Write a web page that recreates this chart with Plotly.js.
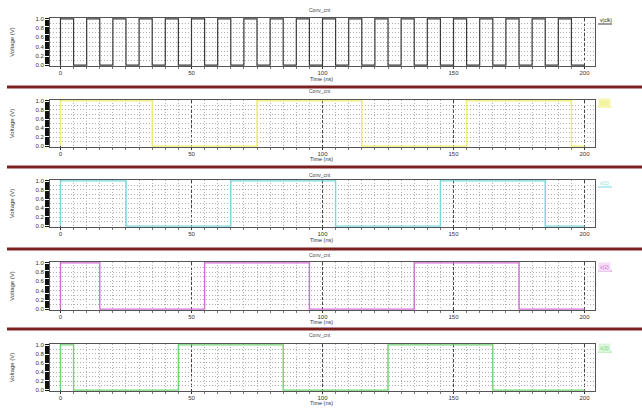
<!DOCTYPE html>
<html>
<head>
<meta charset="utf-8">
<script src="https://cdn.plot.ly/plotly-3.0.1.min.js"></script>
<style>html,body{margin:0;padding:0;background:#fff;}#chart{width:642px;height:408px;}</style>
</head>
<body>
<div id="chart"></div>
<script>
// ---- data ----
const signalNames = ["v(clk)", "v(0)", "v(1)", "v(2)", "v(3)"];
const panelTitle = "Conv_cnt";
const timeTicks = [0, 50, 100, 150, 200];
const voltTicks = [0, 0.1, 0.2, 0.3, 0.4, 0.5, 0.6, 0.7, 0.8, 0.9, 1.0];
const voltLabels = ["0.0", "", "0.2", "", "0.4", "", "0.6", "", "0.8", "", "1.0"];

const clkTime = [0, 0, 5, 10, 15, 20, 25, 30, 35, 40, 45, 50, 55, 60, 65, 70, 75, 80, 85, 90, 95, 100,
  105, 110, 115, 120, 125, 130, 135, 140, 145, 150, 155, 160, 165, 170, 175, 180, 185, 190, 195, 200];
const clkV = [0, 1, 0, 1, 0, 1, 0, 1, 0, 1, 0, 1, 0, 1, 0, 1, 0, 1, 0, 1, 0, 1,
  0, 1, 0, 1, 0, 1, 0, 1, 0, 1, 0, 1, 0, 1, 0, 1, 0, 1, 0, 0];

const bit0Time = [0, 0, 35, 75, 115, 155, 195, 200];
const bit0V    = [0, 1, 0, 1, 0, 1, 0, 0];
const bit1Time = [0, 0, 25, 65, 105, 145, 185, 200];
const bit1V    = [0, 1, 0, 1, 0, 1, 0, 0];
const bit2Time = [0, 0, 15, 55, 95, 135, 175, 200];
const bit2V    = [0, 1, 0, 1, 0, 1, 0, 0];
const bit3Time = [0, 0, 5, 45, 85, 125, 165, 200];
const bit3V    = [0, 1, 0, 1, 0, 1, 0, 0];

// ---- styling ----
const W = 642, H = 408;
const colors = ["#3a3a3a", "#eeee70", "#78d8dc", "#d070d4", "#74d474"];
const labelBg = ["rgba(0,0,0,0)", "#f6f6b0", "rgba(0,0,0,0)", "#f6dcf6", "#dcf6dc"];
const panels = [ // pixel positions of each panel
  {top: 18, bottom: 66, titleY: 10, xTitleY: 79, sep: 87, legY: 20},
  {top: 100, bottom: 147, titleY: 91, xTitleY: 159, sep: 167, legY: 103},
  {top: 180, bottom: 227, titleY: 175, xTitleY: 240, sep: 249, legY: 183},
  {top: 262, bottom: 310, titleY: 255, xTitleY: 322, sep: 329, legY: 267},
  {top: 344, bottom: 391, titleY: 335, xTitleY: 403, sep: null, legY: 348}
];
const xDom = [50 / W, 595 / W];
const FONT = "Liberation Sans, Arial, sans-serif";

const series = [[clkTime, clkV], [bit0Time, bit0V], [bit1Time, bit1V], [bit2Time, bit2V], [bit3Time, bit3V]];
const traces = [];
const layout = {
  width: W, height: H,
  margin: {l: 0, r: 0, t: 0, b: 0},
  paper_bgcolor: "#fff", plot_bgcolor: "#fff",
  showlegend: false,
  font: {family: FONT, size: 6, color: "#333"},
  annotations: [], shapes: []
};

series.forEach((s, i) => {
  const n = i === 0 ? "" : String(i + 1);
  const p = panels[i];
  traces.push({
    x: s[0], y: s[1], type: "scatter", mode: "lines",
    line: {shape: "hv", color: colors[i], width: i === 0 ? 1.2 : 1.4},
    xaxis: "x" + n, yaxis: "y" + n, name: signalNames[i], hoverinfo: "skip"
  });
  layout["xaxis" + n] = {
    domain: xDom, anchor: "y" + n, range: [-4, 204],
    tickvals: timeTicks, ticktext: timeTicks.map(String),
    ticks: "outside", ticklen: 2, tickcolor: "#333",
    ticklabelstandoff: -1,
    showline: true, linecolor: "#555", linewidth: 1, mirror: true,
    showgrid: true, gridcolor: "#444", griddash: "3px,2px", gridwidth: 1,
    zeroline: false,
    minor: {dtick: 5, tick0: 0, ticks: "outside", ticklen: 2, tickcolor: "#777",
            showgrid: true, gridcolor: "#b0b0b0", griddash: "1px,2px", gridwidth: 1},
    tickfont: {size: 6, color: "#333"}
  };
  layout["yaxis" + n] = {
    domain: [1 - p.bottom / H, 1 - p.top / H], anchor: "x" + n, range: [-0.02, 1.02],
    tickvals: voltTicks, ticktext: voltLabels,
    ticks: "outside", ticklen: 4, tickcolor: "#111", tickwidth: 1,
    showline: true, linecolor: "#555", linewidth: 1, mirror: true,
    showgrid: true, gridcolor: "#b0b0b0", griddash: "1px,2px", gridwidth: 1,
    zeroline: false,
    minor: {dtick: 0.025, tick0: 0, ticks: "outside", ticklen: 4, tickcolor: "#111", showgrid: false},
    tickfont: {size: 6, color: "#333"},
    title: {text: "Voltage (V)", font: {size: 6, color: "#333"}, standoff: 20}
  };
  layout.annotations.push({
    text: panelTitle, xref: "paper", yref: "paper",
    x: 320 / W, y: 1 - p.titleY / H, xanchor: "center", yanchor: "middle",
    showarrow: false, font: {size: 5, color: "#444"}
  });
  layout.annotations.push({
    text: "Time (ns)", xref: "paper", yref: "paper",
    x: 322 / W, y: 1 - p.xTitleY / H, xanchor: "center", yanchor: "middle",
    showarrow: false, font: {size: 5.5, color: "#333"}
  });
  layout.annotations.push({
    text: signalNames[i], xref: "paper", yref: "paper",
    x: 598 / W, y: 1 - p.legY / H, xanchor: "left", yanchor: "middle",
    showarrow: false, font: {size: 5, color: i === 0 ? "#222" : colors[i]},
    bgcolor: labelBg[i], borderpad: 1
  });
  layout.shapes.push({
    type: "line", xref: "paper", yref: "paper",
    x0: 598 / W, x1: 612 / W, y0: 1 - (p.legY + 4) / H, y1: 1 - (p.legY + 4) / H,
    line: {color: colors[i], width: 1}
  });
  if (p.sep !== null) {
    layout.shapes.push({
      type: "line", xref: "paper", yref: "paper",
      x0: 7 / W, x1: 1, y0: 1 - p.sep / H, y1: 1 - p.sep / H,
      line: {color: "#7d2020", width: 3}
    });
  }
});

Plotly.newPlot("chart", traces, layout, {staticPlot: true, displayModeBar: false});
</script>
</body>
</html>
